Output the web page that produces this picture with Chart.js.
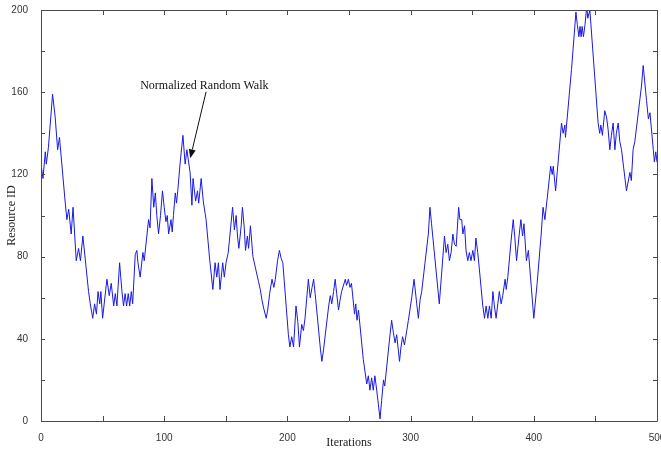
<!DOCTYPE html>
<html>
<head>
<meta charset="utf-8">
<script src="https://cdn.jsdelivr.net/npm/chart.js@4.4.1/dist/chart.umd.min.js"></script>
<style>
html,body{margin:0;padding:0;background:#fff;}
#wrap{width:661px;height:451px;}
</style>
</head>
<body>
<div id="wrap"><canvas id="c" width="661" height="451"></canvas></div>
<script>
// Turning points of the walk
const iterations = [
0,1.6,3.5,4.3,6,9.4,11.5,13.5,15,19.7,21,22.5,24.5,26,28.6,30.5,32,34,38.6,40,
42,43.5,45,46.3,47.7,48.6,50,53.5,55.4,57,59,60.3,61.6,63.8,65.7,67,68.3,69.5,70.8,72,
73.3,74.4,76.5,77.8,78.7,80.5,82.7,83.8,87.3,88.5,90,91.5,92.8,94,95.4,97,98.6,100,101.4,102.5,
103.6,105.5,106.5,107.5,109,110,111,113,115.2,117,118.4,121,122.5,123.4,125.5,127,128,130,131.7,134,
137,139.5,141.3,142.7,144,145.3,147.5,148.8,150.2,152,155.5,157,158.4,159.5,160.6,162.5,163.5,165,166,167.5,
168.5,170,172,176.5,178,179.3,180.7,182.8,184,185.6,187.5,189,190.2,192,193.5,195,196.3,200.8,202,203.5,
205,207,208.5,209.8,211.6,213,214.3,217,218.5,220,221.3,223,226.8,228,229.4,233.5,234.8,236,237.5,238.8,
240,241.5,242.8,244,247,248,249.5,250.8,252,254.5,255.5,256.5,257.7,261.6,264.4,265.7,267,268.4,269.7,271,
272.5,275.2,276.5,278,279,283.3,284.6,286,287.4,288.7,291,292.2,293.5,295,296.9,298.2,300.9,302.8,305,306.3,
307.7,309,311.7,314.4,315.7,317,323.3,327.5,328.8,330.2,331.5,332.9,334.3,335.6,337,339,340,341.5,342.4,343.8,
345,346.4,347.7,349,350.5,351.8,353,354.5,355.8,358.6,360,361.3,362.7,364,365.4,366.8,368,369.4,370.8,372,
373.5,374.8,376.7,377.6,378.9,381.6,383.3,384.5,386,388.2,389.5,390.9,392,394,395.6,400,402.7,406,407.5,409,
413.7,415,415.8,417.7,422.5,423.8,425.2,425.7,430.6,434.2,435.3,436.6,437.5,438.4,439.2,440.3,441.6,443,443.8,445.5,
452.2,453.5,454.4,455.7,457.6,459,460.3,461.7,463,464.4,465.8,467,468.5,469.8,471.2,475.2,478,479.2,480.6,482,
487.4,488.8,491.5,493,494.3,497,497.9,499,500
];
const resourceIds = [
125,118,131,125,133,159,148,132,138,106,98,103,91,104,78,84,78,90,63,57,
50,57,52,63,57,63,50,69,61,67,56,62,56,77,63,56,62,56,62,56,
63,57,81,83,77,70,82,78,98,94,118,104,111,100,91,100,112,104,97,100,
91,98,92,100,111,106,112,126,139,125,132,121,105,118,107,112,106,118,107,98,
78,64,77,70,77,64,77,70,77,82,104,93,100,90,84,95,104,94,83,90,
84,95,80,68,64,59,55,50,54,62,69,65,69,78,83,79,77,42,36,41,
36,56,48,36,47,44,50,69,60,65,69,59,35,29,35,56,61,57,63,69,
62,54,59,63,69,66,69,65,67,52,57,49,54,30,18,22,15,21,15,22,
15,1,10,20,17,42,49,43,38,42,29,36,41,37,44,49,60,69,57,50,
59,63,77,91,104,96,57,90,82,86,78,82,91,86,85,104,98,98,91,95,
83,78,82,78,83,78,89,82,74,56,50,56,50,56,50,63,56,50,57,63,
57,61,69,64,70,88,98,90,78,91,98,90,96,78,83,50,67,91,104,98,
124,120,124,112,145,140,144,138,171,199,193,187,192,187,192,187,193,202,196,200,
145,140,144,139,151,148,142,132,139,145,132,140,145,136,132,112,121,117,132,136,
163,173,156,147,150,132,126,131,126
];
const xTickLabels = [0,100,200,300,400,500];
const yTickLabels = [0,40,80,120,160,200];
const xMinorStep = 50;
const yMinorStep = 20;
const annotationText = 'Normalized Random Walk';
const annotationAt = {x: 80.5, y: 161.8};
const arrowFrom = {x: 134, y: 160.2};
const arrowTo = {x: 121.1, y: 127.8};

const points = iterations.map((x, i) => ({x: x, y: resourceIds[i]}));

const frameColor = '#4a4a4a';

const framePlugin = {
  id: 'frame',
  afterDatasetsDraw(chart) {
    const {ctx, chartArea: a, scales} = chart;
    const xs = scales.x, ys = scales.y;
    ctx.save();
    ctx.strokeStyle = frameColor;
    ctx.lineWidth = 1;
    ctx.beginPath();
    ctx.rect(Math.round(a.left) + 0.5, Math.round(a.top) + 0.5,
             Math.round(a.right - a.left), Math.round(a.bottom - a.top));
    ctx.stroke();
    ctx.beginPath();
    for (let v = xs.min; v <= xs.max; v += xMinorStep) {
      const px = Math.round(xs.getPixelForValue(v)) + 0.5;
      ctx.moveTo(px, a.bottom); ctx.lineTo(px, a.bottom - 5);
      ctx.moveTo(px, a.top); ctx.lineTo(px, a.top + 5);
    }
    for (let v = ys.min; v <= ys.max; v += yMinorStep) {
      const py = Math.round(ys.getPixelForValue(v)) + 0.5;
      ctx.moveTo(a.left, py); ctx.lineTo(a.left + 4, py);
      ctx.moveTo(a.right, py); ctx.lineTo(a.right - 4, py);
    }
    ctx.stroke();
    // annotation
    ctx.fillStyle = '#111';
    ctx.font = '12px "Liberation Serif", "Times New Roman", serif';
    ctx.textBaseline = 'alphabetic';
    ctx.textAlign = 'left';
    ctx.fillText(annotationText, xs.getPixelForValue(annotationAt.x), ys.getPixelForValue(annotationAt.y));
    const x0 = xs.getPixelForValue(arrowFrom.x), y0 = ys.getPixelForValue(arrowFrom.y);
    const x1 = xs.getPixelForValue(arrowTo.x), y1 = ys.getPixelForValue(arrowTo.y);
    const ang = Math.atan2(y1 - y0, x1 - x0);
    const hl = 9, hw = 3.5;
    const bx = x1 - hl * Math.cos(ang), by = y1 - hl * Math.sin(ang);
    ctx.strokeStyle = '#111';
    ctx.beginPath();
    ctx.moveTo(x0, y0); ctx.lineTo(bx, by);
    ctx.stroke();
    ctx.beginPath();
    ctx.moveTo(x1, y1);
    ctx.lineTo(bx + hw * Math.sin(ang), by - hw * Math.cos(ang));
    ctx.lineTo(bx - hw * Math.sin(ang), by + hw * Math.cos(ang));
    ctx.closePath();
    ctx.fillStyle = '#111';
    ctx.fill();
    ctx.restore();
  }
};

new Chart(document.getElementById('c'), {
  type: 'scatter',
  data: {
    datasets: [{
      data: points,
      showLine: true,
      borderColor: 'rgb(25,25,225)',
      borderWidth: 1,
      pointRadius: 0,
      tension: 0,
      fill: false
    }]
  },
  options: {
    responsive: false,
    animation: false,
    devicePixelRatio: 1,
    layout: {padding: {top: 10, right: 4, bottom: 0, left: 0}},
    plugins: {legend: {display: false}, tooltip: {enabled: false}},
    scales: {
      x: {
        type: 'linear', min: 0, max: 500,
        grid: {display: false},
        border: {display: false},
        afterBuildTicks(s) { s.ticks = xTickLabels.map(v => ({value: v})); },
        ticks: {
          padding: 3, maxRotation: 0, autoSkip: false,
          color: '#333',
          font: {family: '"Liberation Sans", Arial, sans-serif', size: 10}
        },
        title: {
          display: true, text: 'Iterations', color: '#222',
          font: {family: '"Liberation Serif", "Times New Roman", serif', size: 12},
          padding: {top: 0, bottom: 1}
        },
        afterFit(s) { s.height = 30; s.paddingLeft = 0; s.paddingRight = 0; }
      },
      y: {
        type: 'linear', min: 0, max: 200,
        grid: {display: false},
        border: {display: false},
        afterBuildTicks(s) { s.ticks = yTickLabels.map(v => ({value: v})); },
        ticks: {
          padding: 5, autoSkip: false,
          color: '#333',
          font: {family: '"Liberation Sans", Arial, sans-serif', size: 10}
        },
        title: {
          display: true, text: 'Resource ID', color: '#222',
          font: {family: '"Liberation Serif", "Times New Roman", serif', size: 12},
          padding: {top: 5, bottom: 0}
        },
        afterFit(s) { s.width = 41; s.paddingTop = 0; s.paddingBottom = 0; }
      }
    }
  },
  plugins: [framePlugin]
});
</script>
</body>
</html>
